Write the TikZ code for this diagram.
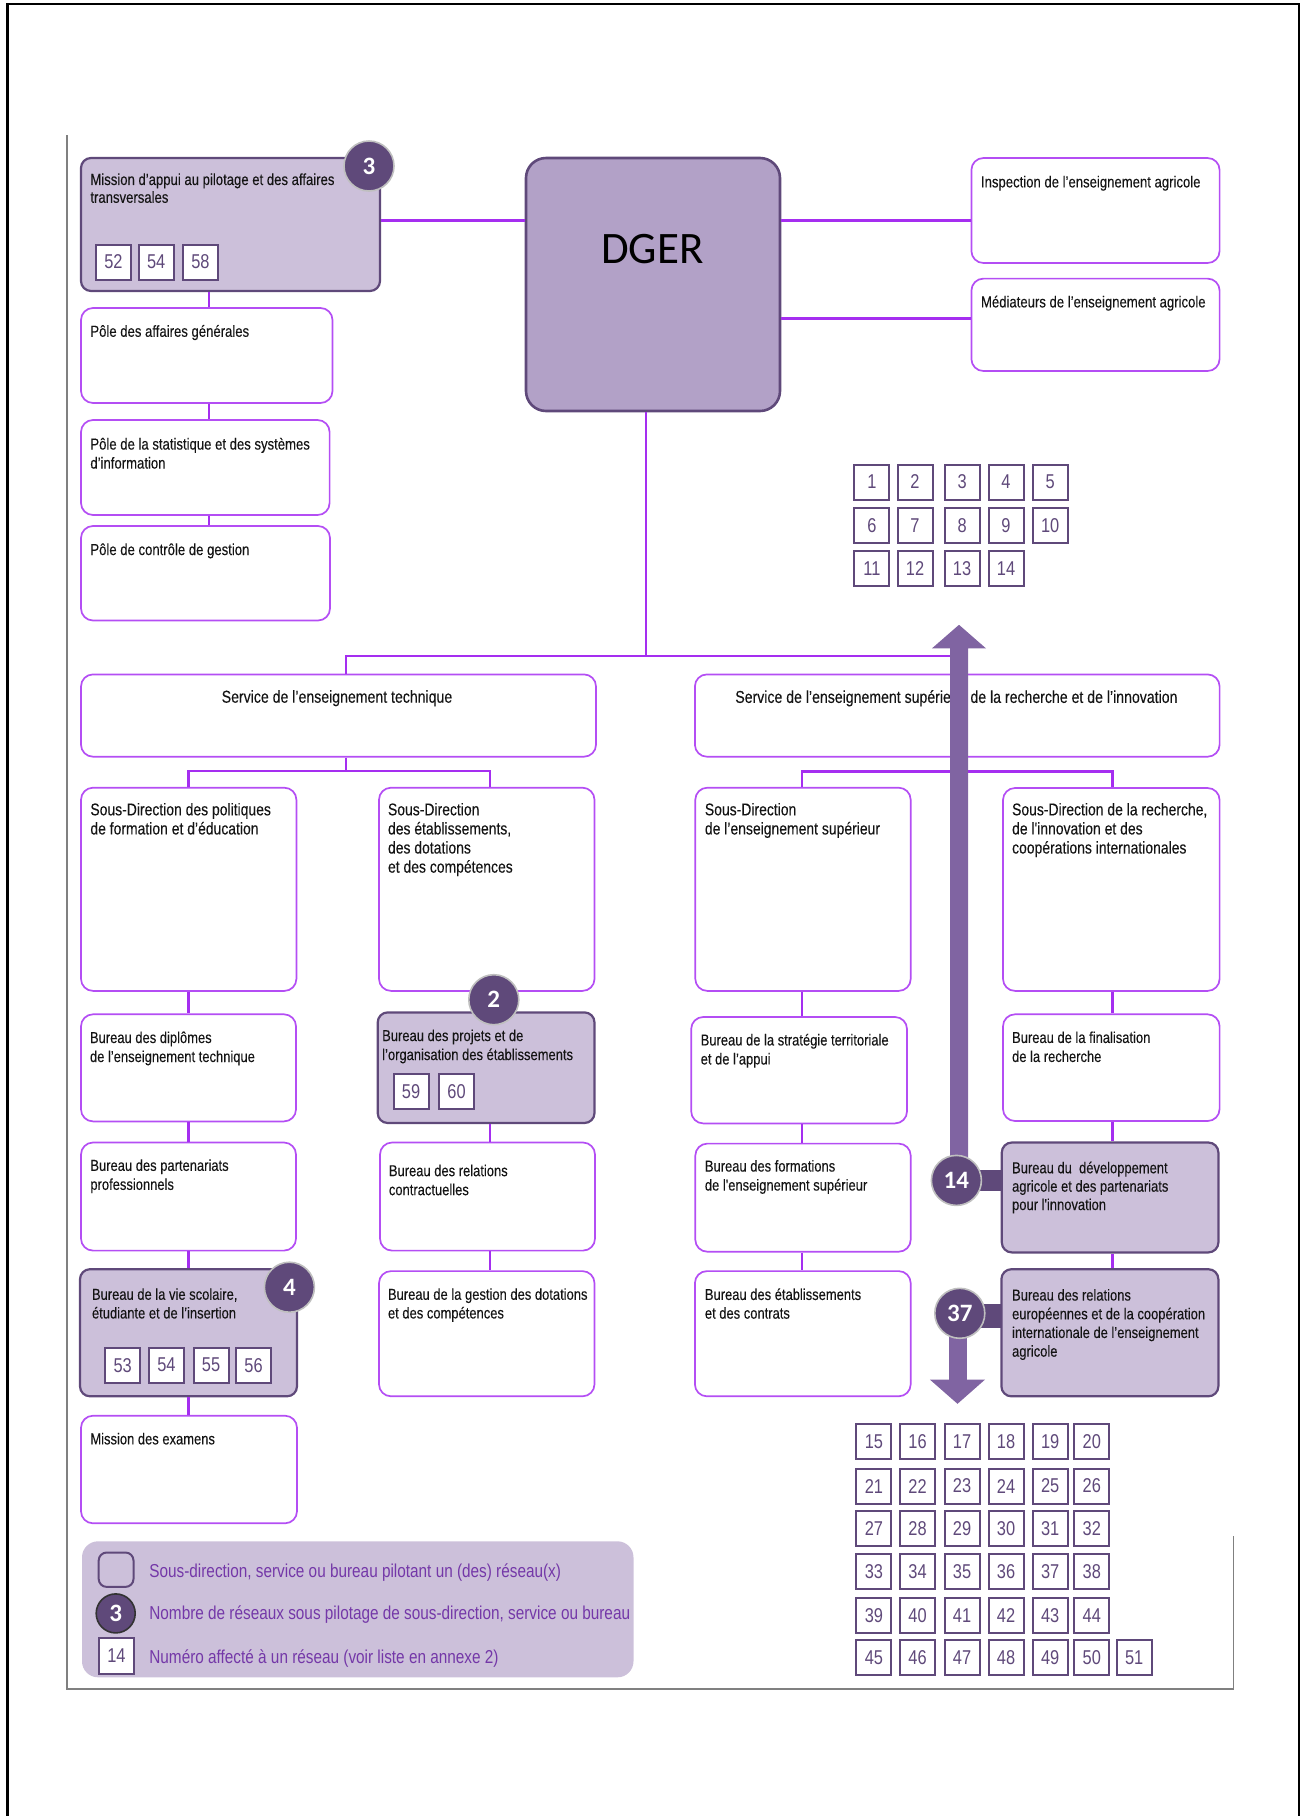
\documentclass[tikz,border=0pt]{standalone}
\usepackage{fontspec}
\setmainfont{Liberation Sans}[FakeStretch=0.82]
\newfontfamily\boxfont{Liberation Sans}[FakeStretch=0.82, FakeBold=0.12]
\newfontfamily\carl{Carlito}
\usetikzlibrary{fit}
\definecolor{vio}{HTML}{A52EF0}
\definecolor{boxv}{HTML}{B44EF4}
\definecolor{dkp}{HTML}{5F497A}
\definecolor{midp}{HTML}{8064A2}
\definecolor{dgp}{HTML}{B2A1C7}
\definecolor{ltp}{HTML}{CCC0DA}
\definecolor{legt}{HTML}{7438A8}
\definecolor{txtc}{HTML}{141414}
\tikzset{
  wbox/.style={draw=boxv, line width=0.85pt, rounded corners=6pt, fill=white, inner sep=0pt},
  fbox/.style={draw=dkp, line width=1.1pt, rounded corners=5pt, fill=ltp, inner sep=0pt},
  con/.style={draw=vio, line width=1.25pt},
  txt/.style={inner sep=0pt, align=left, text=txtc, anchor=north west, font=\boxfont\fontsize{7.9}{9.5}\selectfont},
  txtsd/.style={txt, font=\boxfont\fontsize{8.5}{9.55}\selectfont},
  txtsm/.style={txt, font=\boxfont\fontsize{8}{8.9}\selectfont},
  txtpo/.style={txt, font=\boxfont\fontsize{8}{9.5}\selectfont},
  txtsv/.style={inner sep=0pt, text=txtc, anchor=north, font=\boxfont\fontsize{8.6}{9.6}\selectfont},
  legtxt/.style={inner sep=0pt, text=legt, anchor=base west, font=\fontsize{9.35}{11}\selectfont},
  sq/.style={draw=dkp, line width=1pt, fill=white, minimum width=17.5pt, minimum height=17.5pt, inner sep=0pt, text=dkp, font=\fontsize{10}{10}\selectfont},
  badge/.style={circle, fill=dkp, draw=black!25, line width=0.8pt, minimum size=25pt, inner sep=0pt, text=white, font=\carl\bfseries\fontsize{12.5}{12.5}\selectfont},
  arrowfill/.style={fill=midp},
  barfill/.style={fill=dkp},
  frame/.style={draw=black, line width=1.1pt},
  gframe/.style={draw=black!50, line width=0.6pt}
}
\newcommand\mkbox[6]{\node[#1, fit={(#3,#4) (#5,#6)}] (#2) {};}
\begin{document}
\begin{tikzpicture}[x=0.5pt,y=-0.5pt]
\useasboundingbox (0,0) rectangle (1302,1816);
% frames
\draw[frame] (7.5,1816) -- (7.5,4) -- (1298.6,4) -- (1298.6,1816);
\draw[gframe] (67,135) -- (67,1688.9) -- (1233.8,1688.9) -- (1233.8,1536.4);
% boxes
\mkbox{fbox}{mission}{81}{158}{380}{291}
\mkbox{fbox, fill=dgp, line width=1.3pt, rounded corners=10pt}{dger}{526}{158}{780}{411}
\mkbox{wbox}{pole1}{81}{308}{332.5}{403}
\mkbox{wbox}{pole2}{81}{420}{329.6}{515}
\mkbox{wbox}{pole3}{81}{526}{330}{620.5}
\mkbox{wbox}{insp}{971.4}{158}{1219.6}{263}
\mkbox{wbox}{med}{971.4}{278.6}{1219.6}{371}
\mkbox{wbox}{st}{81}{674.4}{596}{756.7}
\mkbox{wbox}{ss}{694.9}{674.4}{1219.6}{756.7}
\mkbox{wbox}{sd1}{81}{787.7}{296.4}{990.9}
\mkbox{wbox}{sd2}{379}{787.7}{594.5}{990.9}
\mkbox{wbox}{sd3}{695.3}{787.7}{910.7}{990.9}
\mkbox{wbox}{sd4}{1003}{788}{1219.6}{990.9}
\mkbox{wbox}{bd1}{81}{1014.3}{296}{1121.4}
\mkbox{fbox}{bproj}{377.7}{1012.4}{594.5}{1123}
\mkbox{wbox}{bstrat}{691.2}{1017}{907}{1123.4}
\mkbox{wbox}{bfin}{1003}{1014.3}{1219.6}{1121}
\mkbox{wbox}{bpart}{81}{1142.5}{296}{1250.6}
\mkbox{wbox}{brc}{380}{1142.5}{595}{1250.6}
\mkbox{wbox}{bform}{695.3}{1143.6}{910.7}{1251.7}
\mkbox{fbox}{bdev}{1001.8}{1142.5}{1218.4}{1252.4}
\mkbox{fbox}{bvs}{80}{1269.2}{297}{1396.3}
\mkbox{wbox}{bgd}{379}{1271.1}{594.5}{1396.3}
\mkbox{wbox}{betab}{694.9}{1271.1}{910.7}{1396.3}
\mkbox{fbox}{brel}{1001.4}{1269.2}{1218.4}{1396.3}
\mkbox{wbox}{me}{81}{1415.7}{297}{1523.3}
% connector coordinates
\coordinate (yA) at (0,220.5);
\coordinate (yB) at (0,318.4);
\coordinate (j0) at (646,656.1);
\coordinate (jL) at (346,656.1);
\coordinate (jR) at (956.4,656.1);
\coordinate (k0) at (346,771);
\coordinate (kL) at (188.5,771);
\coordinate (kR) at (490,771);
\coordinate (m0) at (956.4,771.3);
\coordinate (mL) at (802.2,771.3);
\coordinate (mR) at (1112.4,771.3);
\coordinate (xM) at (209,0);
% connectors
\draw[con] (mission.east |- yA) -- (dger.west |- yA);
\draw[con] (dger.east |- yA) -- (insp.west |- yA);
\draw[con] (dger.east |- yB) -- (med.west |- yB);
\draw[con] (mission.south -| xM) -- (pole1.north -| xM);
\draw[con] (pole1.south -| xM) -- (pole2.north -| xM);
\draw[con] (pole2.south -| xM) -- (pole3.north -| xM);
\draw[con] (dger.south -| j0) -- (j0);
\draw[con] (st.north -| jL) -- (jL) -- (jR) -- (ss.north -| jR);
\draw[con] (st.south -| k0) -- (k0);
\draw[con] (sd1.north -| kL) -- (kL) -- (kR) -- (sd2.north -| kR);
\draw[con] (ss.south -| m0) -- (m0);
\draw[con] (sd3.north -| mL) -- (mL) -- (mR) -- (sd4.north -| mR);
\draw[con] (sd1.south -| kL) -- (bd1.north -| kL);
\draw[con] (bd1.south -| kL) -- (bpart.north -| kL);
\draw[con] (bpart.south -| kL) -- (bvs.north -| kL);
\draw[con] (bvs.south -| kL) -- (me.north -| kL);
\draw[con] (sd2.south -| kR) -- (bproj.north -| kR);
\draw[con] (bproj.south -| kR) -- (brc.north -| kR);
\draw[con] (brc.south -| kR) -- (bgd.north -| kR);
\draw[con] (sd3.south -| mL) -- (bstrat.north -| mL);
\draw[con] (bstrat.south -| mL) -- (bform.north -| mL);
\draw[con] (bform.south -| mL) -- (betab.north -| mL);
\draw[con] (sd4.south -| mR) -- (bfin.north -| mR);
\draw[con] (bfin.south -| mR) -- (bdev.north -| mR);
\draw[con] (bdev.south -| mR) -- (brel.north -| mR);
% texts
\node[font=\carl\fontsize{22.5}{24}\selectfont, inner sep=0pt] (tdger) at (652.5,249) {DGER};
\node[txtsm] (tmis) at (90,173) {Mission d’appui au pilotage et des affaires\\transversales};
\node[txtpo] (tp1) at (90,324.6) {Pôle des affaires générales};
\node[txtpo] (tp2) at (90,437.4) {Pôle de la statistique et des systèmes\\d’information};
\node[txtpo] (tp3) at (90,543) {Pôle de contrôle de gestion};
\node[txtpo] (tinsp) at (980.6,175.4) {Inspection de l’enseignement agricole};
\node[txtpo] (tmed) at (980.6,295.2) {Médiateurs de l’enseignement agricole};
\node[txtsv] (tst) at (337,689.8) {Service de l’enseignement technique};
\node[txtsv] (tss) at (956.4,689.8) {Service de l’enseignement supérieur, de la recherche et de l’innovation};
\node[txtsd] (tsd1) at (90,802.6) {Sous-Direction des politiques\\de formation et d’éducation};
\node[txtsd] (tsd2) at (387.6,802.6) {Sous-Direction\\des établissements,\\des dotations\\et des compétences};
\node[txtsd] (tsd3) at (704.5,802.6) {Sous-Direction\\de l’enseignement supérieur};
\node[txtsd] (tsd4) at (1011.7,802.6) {Sous-Direction de la recherche,\\de l'innovation et des\\coopérations internationales};
\node[txt] (tbd) at (89.6,1031.1) {Bureau des diplômes\\de l’enseignement technique};
\node[txt] (tbp) at (381.8,1029.2) {Bureau des projets et de\\l’organisation des établissements};
\node[txt] (tbs) at (700.3,1033.4) {Bureau de la stratégie territoriale\\et de l’appui};
\node[txt] (tbf) at (1011.7,1031.1) {Bureau de la finalisation\\de la recherche};
\node[txt] (tbpa) at (90,1159) {Bureau des partenariats\\professionnels};
\node[txt] (tbrc) at (388.5,1164.3) {Bureau des relations\\contractuelles};
\node[txt] (tbfo) at (704.5,1159.7) {Bureau des formations\\de l'enseignement supérieur};
\node[txt, font=\boxfont\fontsize{7.9}{9.2}\selectfont] (tbdev) at (1011.7,1161.2) {Bureau du~ développement\\agricole et des partenariats\\pour l'innovation};
\node[txt, font=\boxfont\fontsize{7.9}{9.35}\selectfont] (tbvs) at (91.6,1287.9) {Bureau de la vie scolaire,\\étudiante et de l’insertion};
\node[txt, font=\boxfont\fontsize{7.9}{9.35}\selectfont] (tbgd) at (387.6,1287.9) {Bureau de la gestion des dotations\\et des compétences};
\node[txt, font=\boxfont\fontsize{7.9}{9.35}\selectfont] (tbe) at (704.5,1287.9) {Bureau des établissements\\et des contrats};
\node[txt, font=\boxfont\fontsize{7.9}{9.35}\selectfont] (tbre) at (1011.7,1288.7) {Bureau des relations\\européennes et de la coopération\\internationale de l’enseignement\\agricole};
\node[txt] (tme) at (90,1432.5) {Mission des examens};
% numbers inside boxes
\node[sq] (s52) at (113.5,262) {52};
\node[sq] (s54a) at (156.2,262) {54};
\node[sq] (s58) at (200.5,262) {58};
\node[sq] (s59) at (411.1,1091.2) {59};
\node[sq] (s60) at (456.6,1091.2) {60};
\node[sq] (s53) at (122.7,1365.1) {53};
\node[sq] (s54b) at (166.4,1365.1) {54};
\node[sq] (s55) at (211,1365.1) {55};
\node[sq] (s56) at (253.5,1365.1) {56};
% grid 1-14
\foreach \rw/\y in {0/482,1/525.5,2/568.6}{
  \foreach \cl/\x in {1/871.9,2/915,3/962.1,4/1006,5/1050.2}{
    \pgfmathtruncatemacro\nn{\rw*5+\cl}
    \ifnum\nn<15 \node[sq] (g\nn) at (\x,\y) {\nn};\fi
  }}
% grid 15-51
\foreach \rw/\y in {0/1441.9,1/1486,2/1528.5,3/1571.2,4/1615.3,5/1657.9}{
  \foreach \cl/\x in {1/873.9,2/917.6,3/962.1,4/1006,5/1050.2,6/1091.8}{
    \pgfmathtruncatemacro\nn{14+\rw*6+\cl}
    \node[sq] (g\nn) at (\x,\y) {\nn};
  }}
\node[sq] (g51) at (1134.2,1657.9) {51};
% arrows
\fill[arrowfill] (950.2,1180) -- (950.2,648.4) -- (931.9,648.4) -- (959,624.8) -- (986,648.4) -- (968.1,648.4) -- (968.1,1180) -- cycle;
\fill[arrowfill] (949,1313) -- (949,1379.5) -- (929.8,1379.5) -- (957.5,1403.8) -- (985.1,1379.5) -- (966.8,1379.5) -- (966.8,1313) -- cycle;
\fill[barfill] (956,1169.7) rectangle (1002.5,1191.1);
\fill[barfill] (959,1304) rectangle (1002,1327.9);
% badges
\node[badge] (b3) at (369,166) {3};
\node[badge] (b2) at (493.8,999.7) {2};
\node[badge] (b4) at (289.4,1287.2) {4};
\node[badge] (b14) at (956.4,1180.4) {14};
\node[badge] (b37) at (959.8,1313.3) {37};
% legend
\node[fill=ltp, rounded corners=8pt, inner sep=0pt, fit={(82,1541.3) (633.5,1677.3)}] (leg) {};
\node[draw=dkp, line width=1pt, fill=ltp, rounded corners=4pt, inner sep=0pt, fit={(98.7,1552.5) (133.5,1586.9)}] (legsq) {};
\node[badge, minimum size=19.5pt, draw=black!80] (legb) at (115.7,1613.4) {3};
\node[sq, minimum height=17.8pt] (leg14) at (116.5,1656) {14};
\node[legtxt] (lt1) at (149,1577.5) {Sous-direction, service ou bureau pilotant un (des) réseau(x)};
\node[legtxt] (lt2) at (149,1619.8) {Nombre de réseaux sous pilotage de sous-direction, service ou bureau};
\node[legtxt] (lt3) at (149,1663.5) {Numéro affecté à un réseau (voir liste en annexe 2)};
\end{tikzpicture}
\end{document}
